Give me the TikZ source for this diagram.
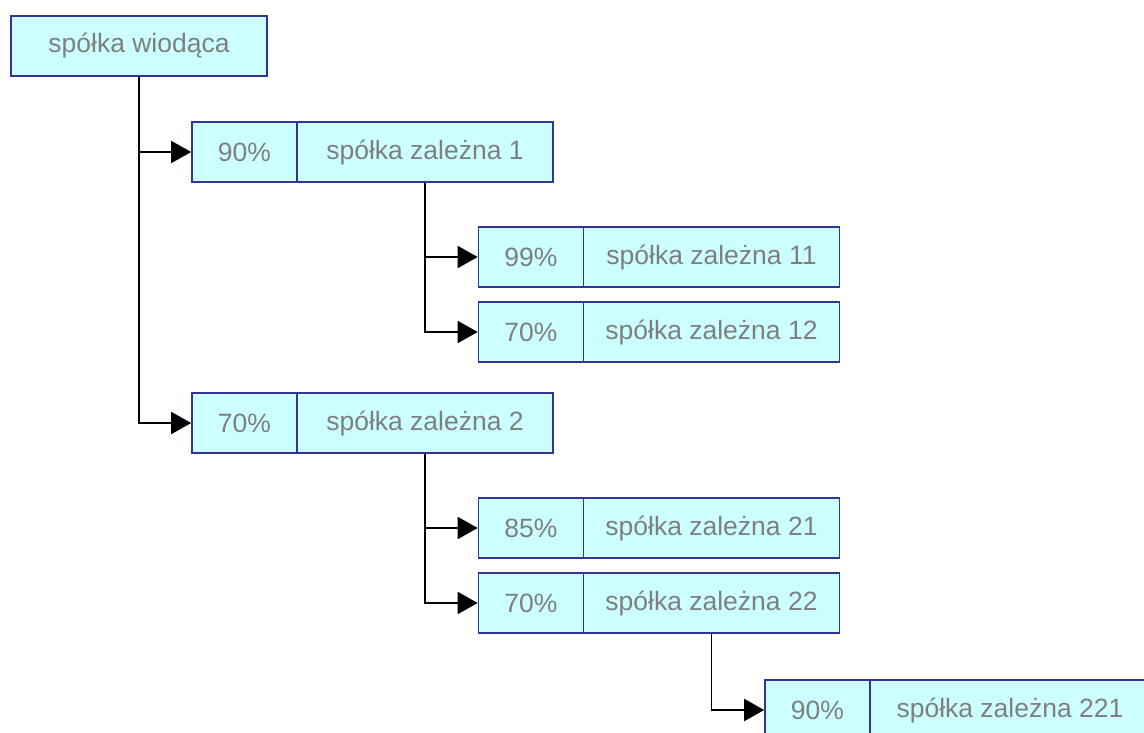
\documentclass[tikz,border=0pt]{standalone}
\usepackage{fontspec}
\setmainfont{Liberation Sans}
\usetikzlibrary{arrows.meta}
\definecolor{boxfill}{HTML}{CCFFFF}
\definecolor{boxline}{HTML}{333399}
\definecolor{txt}{HTML}{7F7F7F}
\begin{document}
\begin{tikzpicture}[x=1pt,y=-1pt,
  cell/.style={draw=boxline, fill=boxfill, line width=1.6pt, minimum height=60pt,
    inner sep=0pt, text=txt, font=\fontsize{26.5}{31}\selectfont},
  pct/.style={cell, minimum width=105pt},
  nm/.style={cell, minimum width=256pt},
  conn/.style={line width=1.8pt, -{Triangle[length=20pt,width=22pt]}}]
\useasboundingbox (0,0) rectangle (1144,733);
\clip (0,0) rectangle (1144,733);
\node[nm] (root) at (139,46) {spółka wiodąca};
\node[pct] (p1) at (244.5,152) {90\%};
\node[nm] (n1) at (425,152) {spółka zależna 1};
\node[pct] (p11) at (531,257) {99\%};
\node[nm] (n11) at (711.5,257) {spółka zależna 11};
\node[pct] (p12) at (531,332) {70\%};
\node[nm] (n12) at (711.5,332) {spółka zależna 12};
\node[pct] (p2) at (244.5,423) {70\%};
\node[nm] (n2) at (425,423) {spółka zależna 2};
\node[pct] (p21) at (531,528) {85\%};
\node[nm] (n21) at (711.5,528) {spółka zależna 21};
\node[pct] (p22) at (531,603) {70\%};
\node[nm] (n22) at (711.5,603) {spółka zależna 22};
\node[pct] (p221) at (817.5,710) {90\%};
\node[nm, minimum width=280pt] (n221) at (1010,710) {spółka zależna 221};
\draw[conn] (root.south) |- (p1.west);
\draw[conn] (root.south) |- (p2.west);
\draw[conn] (n1.south) |- (p11.west);
\draw[conn] (n1.south) |- (p12.west);
\draw[conn] (n2.south) |- (p21.west);
\draw[conn] (n2.south) |- (p22.west);
\draw[conn] (n22.south) |- (p221.west);
\end{tikzpicture}
\end{document}
